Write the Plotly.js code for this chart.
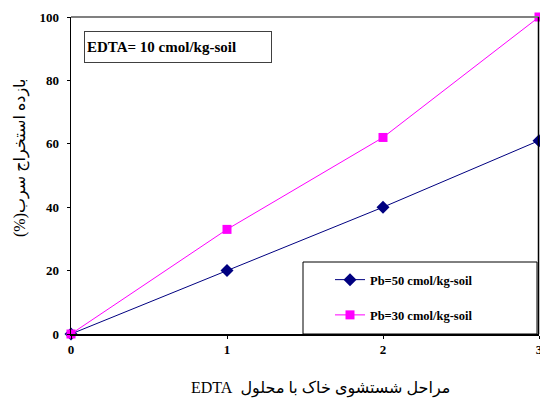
<!DOCTYPE html>
<html>
<head>
<meta charset="utf-8">
<script src="https://cdn.plot.ly/plotly-3.0.1.min.js"></script>
<style>html,body{margin:0;padding:0;background:#fff;}</style>
</head>
<body>
<div id="chart" style="width:540px;height:403px;"></div>
<script>
const stages = [0, 1, 2, 3];
const pb50 = [0, 20, 40, 61];
const pb30 = [0, 33, 62, 100];
const seriesNames = ['Pb=50 cmol/kg-soil', 'Pb=30 cmol/kg-soil'];
const xTicks = [0, 1, 2, 3];
const yTicks = [0, 20, 40, 60, 80, 100];
const boxLabel = 'EDTA= 10 cmol/kg-soil';
const xTitle = '\u202Bمراحل شستشوی خاک با محلول  EDTA\u202C';
const yTitle = '\u202Bبازده استخراج سرب(%)\u202C';

const serif = 'Liberation Serif, DejaVu Sans, serif';

const L = 71, R = 1, T = 17, B = 69;
const W = 540 - L - R, H = 403 - T - B;
const px = v => (v - L) / W;
const py = v => (403 - B - v) / H;

const traces = [
  {x: stages, y: pb50, name: seriesNames[0], type: 'scatter', mode: 'lines+markers',
   line: {color: '#000080', width: 1}, marker: {symbol: 'diamond', size: 10, color: '#000080'},
   cliponaxis: false, legendgroup: 'a'},
  {x: stages, y: pb30, name: seriesNames[1], type: 'scatter', mode: 'lines+markers',
   line: {color: '#FF00FF', width: 1}, marker: {symbol: 'square', size: 9, color: '#FF00FF'},
   cliponaxis: false, legendgroup: 'b'}
];

const layout = {
  width: 540, height: 403,
  margin: {l: L, r: R, t: T, b: B},
  paper_bgcolor: '#fff', plot_bgcolor: '#fff',
  showlegend: true,
  legend: {x: px(330), xanchor: 'left', y: py(265), yanchor: 'top',
    font: {family: serif, size: 12.5, color: '#000', weight: 'bold'},
    bgcolor: 'rgba(0,0,0,0)', borderwidth: 0, tracegroupgap: 16, traceorder: 'grouped'},
  xaxis: {range: [0, 3], tickvals: xTicks, ticktext: xTicks.map(String),
    showgrid: false, zeroline: false, showline: true, linecolor: '#000', linewidth: 1.5,
    ticks: 'outside', ticklen: 3, tickcolor: '#000', ticklabeloverflow: 'allow',
    tickfont: {family: serif, size: 13, color: '#000', weight: 'bold'}},
  yaxis: {range: [0, 100], tickvals: yTicks, ticktext: yTicks.map(String),
    showgrid: false, zeroline: false, showline: true, linecolor: '#000', linewidth: 1.5,
    ticks: 'outside', ticklen: 3, tickcolor: '#000', ticklabelstandoff: 5,
    tickfont: {family: serif, size: 13, color: '#000', weight: 'bold'}},
  shapes: [
    {type: 'line', xref: 'paper', yref: 'paper', x0: 0, x1: 1, y0: 1, y1: 1,
     line: {color: '#808080', width: 2}},
    {type: 'line', xref: 'paper', yref: 'paper', x0: px(538.5), x1: px(538.5), y0: 0, y1: 1,
     line: {color: '#000', width: 1.5}},
    {type: 'rect', xref: 'paper', yref: 'paper', x0: px(303), x1: px(537), y0: 0, y1: py(262),
     line: {color: '#000', width: 1}, fillcolor: 'rgba(0,0,0,0)'}
  ],
  annotations: [
    {text: boxLabel, xref: 'paper', yref: 'paper', x: px(84), y: py(31), xanchor: 'left', yanchor: 'top',
     showarrow: false, width: 182, height: 26, align: 'left', borderpad: 2,
     bordercolor: '#404040', borderwidth: 1, bgcolor: '#fff',
     font: {family: serif, size: 15, color: '#000', weight: 'bold'}},
    {text: xTitle, xref: 'paper', yref: 'paper', x: px(320), y: py(388), xanchor: 'center', yanchor: 'middle',
     showarrow: false, font: {family: serif, size: 16, color: '#000'}},
    {text: yTitle, xref: 'paper', yref: 'paper', x: px(20), y: py(158), xanchor: 'center', yanchor: 'middle',
     textangle: -90, showarrow: false, font: {family: serif, size: 16, color: '#000'}}
  ]
};

Plotly.newPlot('chart', traces, layout, {displayModeBar: false, staticPlot: true});
</script>
</body>
</html>
